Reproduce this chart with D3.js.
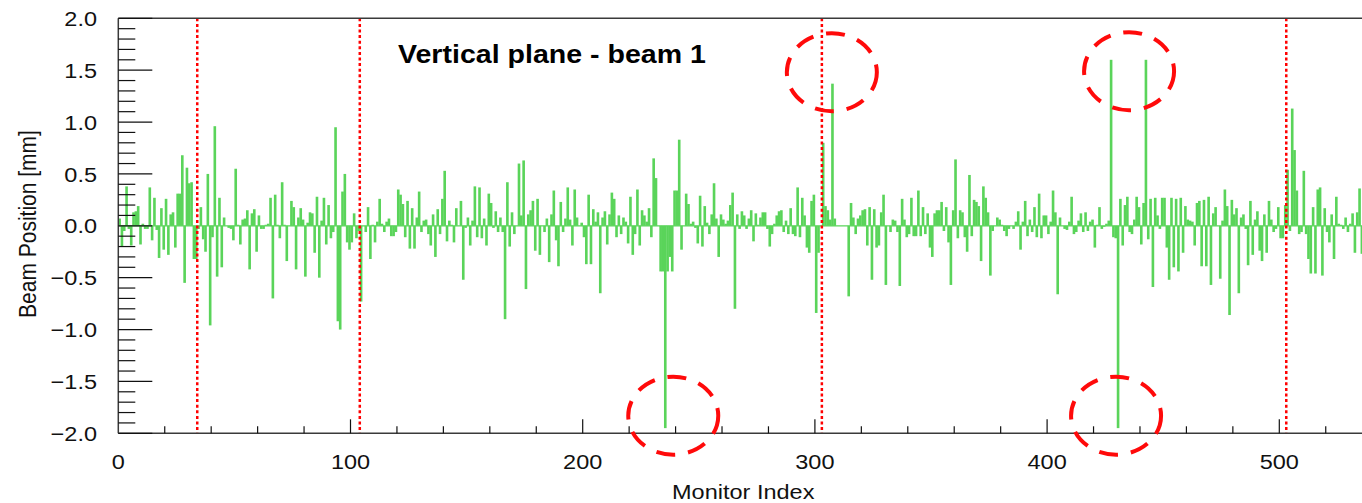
<!DOCTYPE html>
<html lang="en">
  <head>
    <meta charset="UTF-8" />
    <title>Vertical plane - beam 1</title>
    <script src="https://d3js.org/d3.v7.min.js"></script>
    <style>
      body {
        margin: 0;
        background: #fff;
      }
      svg {
        display: block;
        font-family: "Liberation Sans", Arial, Helvetica, sans-serif;
      }
    </style>
  </head>
  <body>
    <div id="chart"></div>

    <script>
      // beam position per monitor index (mm)
      const positions = [
        0.07, -0.2, -0.05, 0.38, -0.03, -0.19, 0.13, 0.14, 0.19, -0.18, 0.02, -0.03, -0.03, 0.37, -0.14, 0.27, -0.04, -0.31, 0.17, -0.23,
        0.26, -0.28, 0.11, 0.13, -0.21, 0.31, 0.31, 0.68, -0.55, 0.56, 0.41, 0.42, -0.32, -0.32, -0.03, 0.18, -0.13, -0.25, 0.5, -0.96,
        -0.11, 0.96, -0.49, 0.27, -0.4, 0.08, 0, -0.02, -0.03, -0.14, 0.55, 0.01, -0.18, 0.06, 0.07, 0.15, -0.42, 0.12, 0.16, -0.25,
        0.1, -0.03, -0.03, 0.01, 0.02, 0.27, -0.7, 0.3, 0.01, -0.12, 0.42, 0.01, -0.34, 0, 0.24, 0.18, -0.42, 0.08, 0.17, 0.06,
        -0.49, 0.03, 0.13, 0.12, -0.26, 0.28, -0.5, 0.05, 0.27, -0.18, 0.2, -0.12, -0.06, 0.95, -0.92, -1.0, 0.33, 0.5, -0.16, -0.23,
        -0.16, 0.12, -0.12, -0.05, -0.73, 0, -0.06, 0.18, -0.32, 0.01, -0.16, 0.04, 0.26, 0.02, -0.06, 0.04, 0.07, -0.1, -0.1, -0.06,
        0.35, 0.3, 0.21, -0.11, 0.24, -0.22, 0.17, -0.22, 0.08, 0.33, -0.06, 0.05, 0.06, -0.08, -0.19, 0.11, -0.3, 0.16, -0.08, 0.26,
        0.53, -0.15, 0.05, 0.01, -0.16, 0.17, 0, 0.24, -0.52, -0.02, 0.08, -0.19, 0.05, 0.38, -0.11, 0.37, -0.12, 0.07, -0.19, 0.31,
        0.22, -0.02, 0.14, -0.06, 0.08, -0.06, -0.9, 0.42, -0.2, 0.13, -0.08, 0, 0.6, 0.1, 0.63, -0.61, 0.11, 0.15, 0.24, -0.24,
        0.26, -0.28, 0, -0.06, 0.07, -0.35, 0.11, 0.34, -0.14, -0.39, 0.23, -0.06, 0.07, 0.37, 0.06, -0.19, 0.35, 0.08, 0, 0.03,
        -0.11, -0.37, 0.3, -0.37, 0.16, 0.04, 0.13, -0.65, 0.08, 0.14, -0.18, 0.11, 0.32, 0.26, -0.11, 0.1, -0.08, 0.08, 0.04, -0.17,
        0.28, -0.28, -0.08, 0.35, -0.19, 0.15, 0.1, 0.04, 0.17, -0.11, 0.65, 0.46, 0, -0.44, -0.44, -1.95, -0.44, -0.3, -0.44, 0.34,
        0.34, 0.83, -0.23, 0, 0.31, 0.21, 0.02, 0.04, -0.02, -0.17, 0.29, -0.2, 0.19, 0.03, -0.08, 0.11, 0.41, 0.07, -0.3, 0.11,
        0.06, 0.02, 0.05, 0.2, 0.32, -0.8, 0.11, -0.03, 0.14, 0.1, -0.03, 0.07, 0.15, -0.15, 0.12, 0.01, 0.08, 0.13, 0.13, -0.03,
        -0.2, -0.08, 0.02, 0.1, 0.14, 0.15, -0.06, 0.05, -0.08, 0.17, -0.08, -0.1, 0.37, -0.11, 0.27, 0.1, -0.21, -0.26, 0.24, 0.3,
        -0.84, -0.26, 0, 0.8, 0.19, 0.15, 0.06, 1.37, 0.07, 0, 0, 0, 0, 0, -0.68, 0.22, 0.08, -0.08, 0.07, 0.1,
        0.15, 0.16, -0.19, 0.18, -0.52, 0.16, -0.21, -0.19, 0.13, 0.3, -0.57, 0, -0.06, 0.06, 0.05, -0.06, -0.58, 0.26, 0.06, -0.11,
        -0.08, 0.27, -0.1, -0.1, 0.34, -0.1, 0.18, -0.08, 0.12, -0.21, -0.3, 0.12, 0.15, 0.15, 0.23, -0.05, 0.18, -0.16, -0.57, 0.15,
        0.64, -0.12, 0.15, 0.13, -0.11, -0.25, 0.49, -0.1, 0.25, 0.23, 0.19, -0.34, 0.38, 0.27, 0.13, -0.48, -0.05, 0, 0.08, 0.06,
        0.01, -0.05, -0.1, -0.03, 0, -0.03, 0.04, 0.14, -0.23, 0.04, 0.24, -0.1, 0.06, -0.06, 0.18, -0.11, 0.31, -0.12, 0.1, 0.1,
        -0.08, 0.04, 0.34, 0.13, -0.66, 0.08, 0, -0.03, -0.04, 0.04, 0.28, -0.08, -0.06, 0.05, 0.12, -0.06, 0.13, -0.05, 0.04, 0.06,
        -0.21, 0.01, 0.18, -0.03, -0.01, 0.02, 0.05, 1.6, -0.11, -0.12, -1.95, 0.26, -0.19, 0.2, 0.28, -0.06, -0.08, 0.06, 0.28, 0.18,
        -0.18, 0.22, 1.6, -0.13, 0.26, -0.59, 0.27, 0.1, -0.03, 0.27, 0.27, -0.21, -0.52, 0.27, -0.4, 0.26, -0.44, 0.27, -0.26, 0.19,
        0.06, 0.05, 0.04, -0.19, 0.22, 0.24, -0.39, 0.25, -0.39, 0.28, -0.57, 0.12, 0.18, 0, -0.51, 0.05, 0.35, 0.19, -0.86, 0.25,
        0.11, 0.17, -0.65, 0.08, 0.11, -0.03, -0.38, 0.24, -0.28, 0.06, 0.14, -0.24, -0.34, 0.11, -0.26, 0.24, 0.06, -0.06, -0.03, 0.18,
        -0.12, -0.12, 0.2, 0.54, -0.05, 1.13, 0.73, 0.34, -0.08, -0.06, 0.53, -0.08, -0.32, -0.46, 0.18, -0.46, 0.35, 0.37, -0.48, 0.17,
        -0.06, -0.16, 0.11, -0.32, 0.28, 0.02, 0.01, -0.03, 0.08, -0.06, 0.02, 0.12, -0.26, 0.13, 0.36, -0.27,
      ];

      // dotted red markers (monitor index)
      const ipMarkers = [34, 104, 303, 503];

      // dashed circles around the large excursions (monitor index, mm)
      const circledSpots = [
        { x: 239, y: -1.83 },
        { x: 307.3, y: 1.48 },
        { x: 435.3, y: 1.49 },
        { x: 429.7, y: -1.83 },
      ];

      const xTicks = [0, 100, 200, 300, 400, 500];
      const yTicks = [-2, -1.5, -1, -0.5, 0, 0.5, 1, 1.5, 2];
      const chartTitle = "Vertical plane - beam 1";
      const xTitle = "Monitor Index";
      const yTitle = "Beam Position [mm]";

      const width = 1362;
      const height = 503;
      const plotLeft = 118.3;
      const plotTop = 18.3;
      const plotBottom = 433.3;
      const stretch = 1.12; // picture is a bit wider than tall

      const green = "#5ad45a";
      const frameColor = "#3a3a3a";

      const x = d3
        .scaleLinear()
        .domain([0, 540])
        .range([plotLeft, plotLeft + 540 * 2.322]);
      const y = d3.scaleLinear().domain([-2, 2]).range([plotBottom, plotTop]);

      const svg = d3
        .select("#chart")
        .append("svg")
        .attr("width", width)
        .attr("height", height);

      // bars: each bin filled from zero, neighbours touch
      const binW = x(1) - x(0);
      svg
        .append("g")
        .selectAll("rect")
        .data(positions)
        .enter()
        .append("rect")
        .attr("x", (d, i) => x(i))
        .attr("width", binW + 0.3)
        .attr("y", (d) => y(Math.max(0, d)))
        .attr("height", (d) => Math.abs(y(d) - y(0)))
        .attr("fill", green);

      // histogram baseline
      svg
        .append("line")
        .attr("x1", x(0))
        .attr("x2", x(positions.length))
        .attr("y1", y(0))
        .attr("y2", y(0))
        .attr("stroke", green)
        .attr("stroke-width", 1.3);

      // dotted markers
      svg
        .append("g")
        .selectAll("line")
        .data(ipMarkers)
        .enter()
        .append("line")
        .attr("x1", (d) => x(d))
        .attr("x2", (d) => x(d))
        .attr("y1", plotTop)
        .attr("y2", plotBottom)
        .attr("stroke", "#ff0000")
        .attr("stroke-width", 2.5)
        .attr("stroke-dasharray", "3,2.6");

      // frame
      const frame = svg.append("g").attr("stroke", frameColor).attr("stroke-width", 1.5);
      frame.append("line").attr("x1", plotLeft).attr("x2", width).attr("y1", plotTop).attr("y2", plotTop);
      frame.append("line").attr("x1", plotLeft).attr("x2", width).attr("y1", plotBottom).attr("y2", plotBottom);
      frame.append("line").attr("x1", plotLeft).attr("x2", plotLeft).attr("y1", plotTop).attr("y2", plotBottom);

      // y ticks (inside)
      const yMinor = d3.range(-20, 21).map((v) => v / 10);
      svg
        .append("g")
        .selectAll("line")
        .data(yMinor)
        .enter()
        .append("line")
        .attr("x1", plotLeft)
        .attr("x2", (d) => plotLeft + (Math.abs(d * 2 - Math.round(d * 2)) < 1e-6 ? 34 : 17))
        .attr("y1", (d) => y(d))
        .attr("y2", (d) => y(d))
        .attr("stroke", "#111")
        .attr("stroke-width", 1.2);

      // x ticks (inside)
      const xMinor = d3.range(20, 540, 20);
      svg
        .append("g")
        .selectAll("line")
        .data(xMinor)
        .enter()
        .append("line")
        .attr("x1", (d) => x(d))
        .attr("x2", (d) => x(d))
        .attr("y1", plotBottom)
        .attr("y2", (d) => plotBottom - (d % 100 === 0 ? 14 : 7))
        .attr("stroke", "#111")
        .attr("stroke-width", 1.2);

      // tick labels
      const fmtY = (v) => (v < 0 ? "\u2212" : "") + Math.abs(v).toFixed(1);
      svg
        .append("g")
        .selectAll("text")
        .data(yTicks)
        .enter()
        .append("text")
        .attr("transform", (d) => `translate(97,${y(d) + 7.6}) scale(${stretch},1)`)
        .attr("text-anchor", "end")
        .attr("font-size", 21)
        .attr("fill", "#111")
        .text(fmtY);

      svg
        .append("g")
        .selectAll("text")
        .data(xTicks)
        .enter()
        .append("text")
        .attr("transform", (d) => `translate(${x(d)},468.5) scale(${stretch},1)`)
        .attr("text-anchor", "middle")
        .attr("font-size", 21)
        .attr("fill", "#111")
        .text((d) => d);

      // axis titles
      svg
        .append("text")
        .attr("transform", `translate(672,499) scale(${stretch},1)`)
        .attr("font-size", 21)
        .attr("fill", "#111")
        .text(xTitle);

      svg
        .append("text")
        .attr("transform", `translate(35.5,224) scale(${stretch},1) rotate(-90)`)
        .attr("text-anchor", "middle")
        .attr("font-size", 21)
        .attr("fill", "#111")
        .text(yTitle);

      // title
      svg
        .append("text")
        .attr("transform", `translate(398,63) scale(${stretch},1)`)
        .attr("font-size", 25.5)
        .attr("font-weight", "bold")
        .attr("fill", "#000")
        .text(chartTitle);

      // dashed circles
      svg
        .append("g")
        .selectAll("ellipse")
        .data(circledSpots)
        .enter()
        .append("ellipse")
        .attr("cx", (d) => x(d.x))
        .attr("cy", (d) => y(d.y))
        .attr("rx", 45)
        .attr("ry", 39)
        .attr("fill", "none")
        .attr("stroke", "#ff0a0a")
        .attr("stroke-width", 4)
        .attr("stroke-dasharray", "19,13");
    </script>
  </body>
</html>
